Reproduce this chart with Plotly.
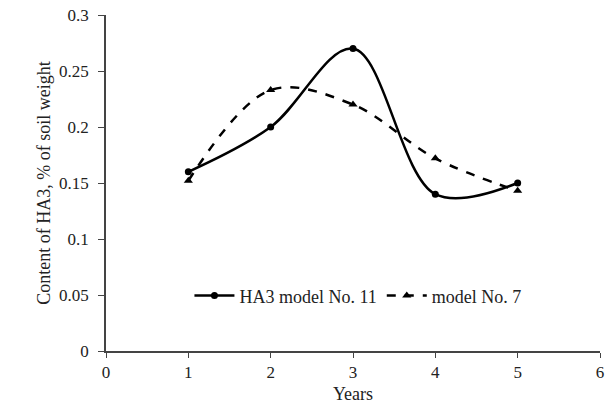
import plotly.graph_objects as go

years = [1, 2, 3, 4, 5]
model_11 = [0.16, 0.20, 0.27, 0.14, 0.15]
model_7 = [0.152, 0.233, 0.22, 0.172, 0.143]
x_ticks = [0, 1, 2, 3, 4, 5, 6]
y_ticks = [0, 0.05, 0.1, 0.15, 0.2, 0.25, 0.3]

font = "Liberation Serif, Times New Roman, serif"

fig = go.Figure()
fig.add_trace(go.Scatter(
    x=years, y=model_11, name="HA3 model No. 11",
    mode="lines+markers",
    line=dict(color="black", width=2.5, shape="spline", smoothing=1),
    marker=dict(symbol="circle", size=7, color="black"),
))
fig.add_trace(go.Scatter(
    x=years, y=model_7, name="model No. 7",
    mode="lines+markers",
    line=dict(color="black", width=2.5, dash="dash", shape="spline", smoothing=1),
    marker=dict(symbol="triangle-up", size=8, color="black"),
))

fig.update_layout(
    width=613, height=405,
    margin=dict(l=106, r=13, t=15, b=54),
    paper_bgcolor="white", plot_bgcolor="white",
    font=dict(family=font, size=17, color="#222"),
    legend=dict(
        orientation="h", x=0.51, y=0.164, xanchor="center", yanchor="middle",
        bgcolor="rgba(0,0,0,0)", font=dict(family=font, size=18, color="#222"),
        itemwidth=40, tracegroupgap=0,
    ),
    xaxis=dict(
        range=[0, 6], tickvals=x_ticks, ticks="outside", ticklen=5,
        showline=True, linecolor="#444", linewidth=1.5, tickcolor="#444",
        showgrid=False, zeroline=False, automargin=False, ticklabelstandoff=0,
        title=dict(text="Years", font=dict(family=font, size=18), standoff=6),
    ),
    yaxis=dict(
        range=[0, 0.3], tickvals=y_ticks, ticktext=["0", "0.05", "0.1", "0.15", "0.2", "0.25", "0.3"],
        ticks="outside", ticklen=6,
        showline=True, linecolor="#444", linewidth=1.5, tickcolor="#444",
        showgrid=False, zeroline=False, automargin=False, ticklabelstandoff=6,
        title=dict(text="Content of HA3, % of soil weight", font=dict(family=font, size=18), standoff=4),
    ),
)

fig.write_html("out.html")
